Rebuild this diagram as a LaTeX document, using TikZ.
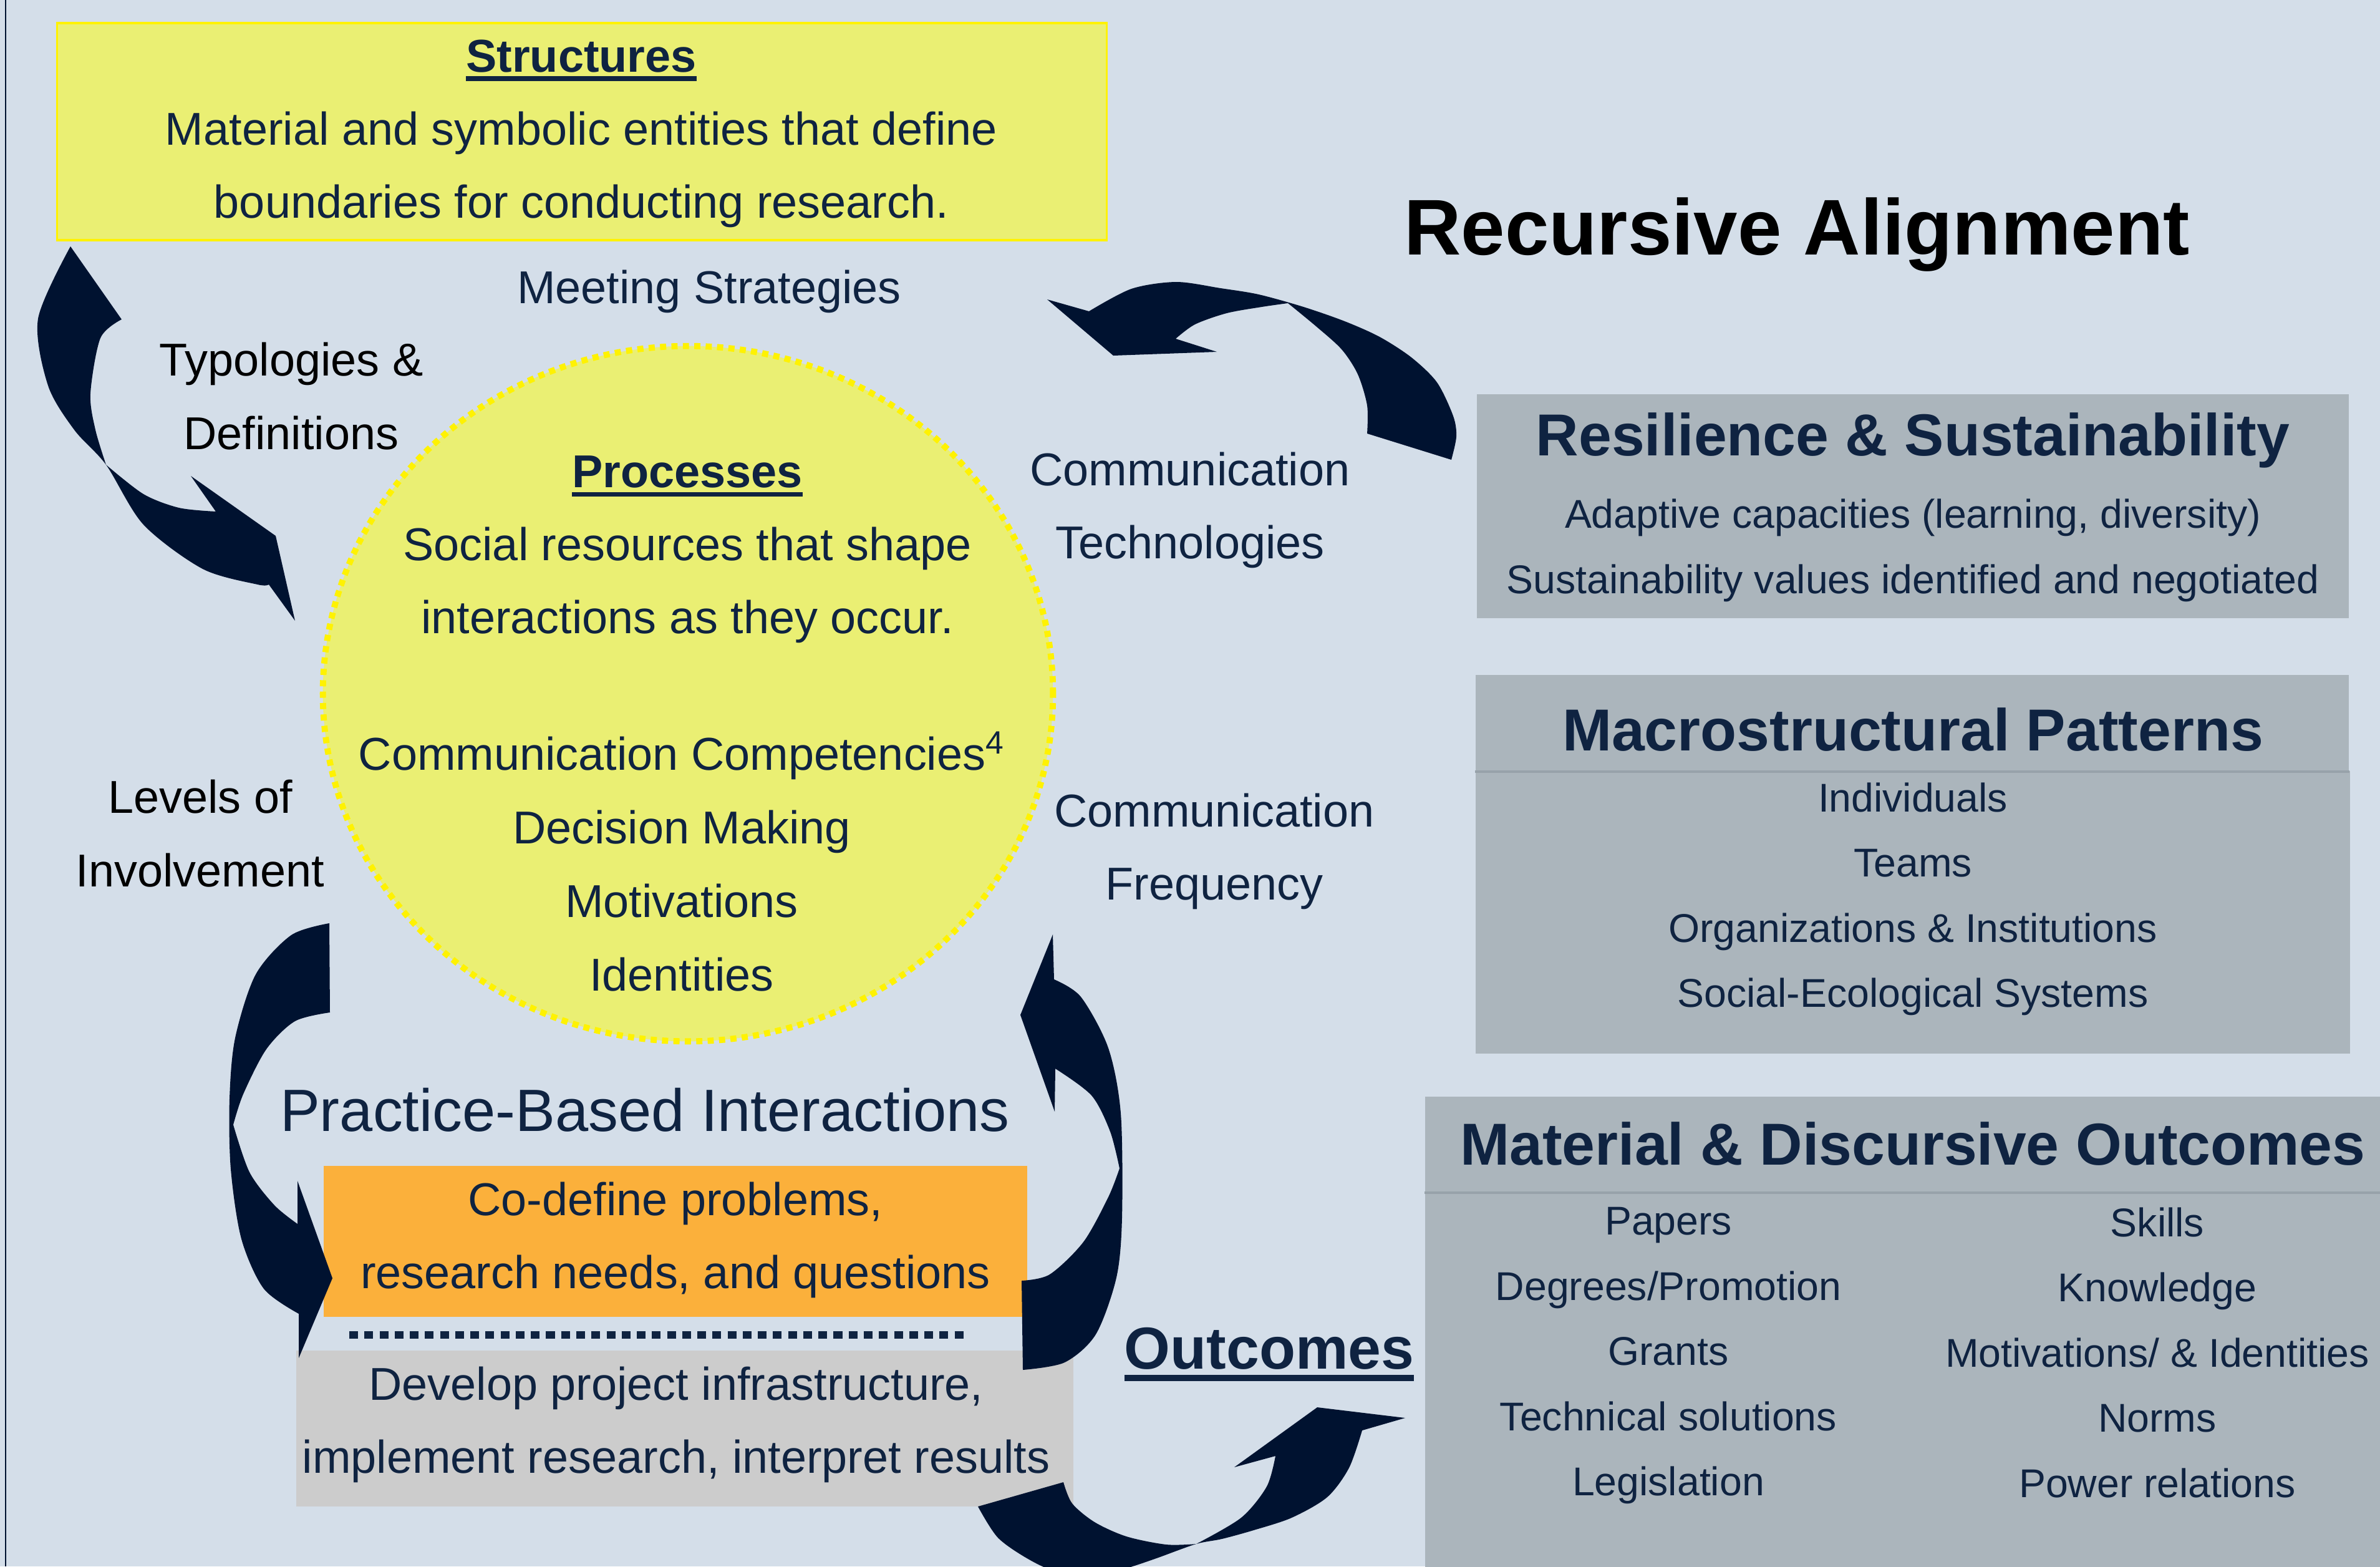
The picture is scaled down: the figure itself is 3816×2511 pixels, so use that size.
\documentclass[tikz,border=0pt]{standalone}
\usepackage{fontspec}
\setmainfont{Liberation Sans}
\usetikzlibrary{shapes.geometric}

\definecolor{bgblue}{HTML}{D4DEE9}
\definecolor{navy}{HTML}{0F2341}
\definecolor{arrownavy}{HTML}{001230}
\definecolor{paleyellow}{HTML}{EAEF73}
\definecolor{orangebox}{HTML}{FBB03B}
\definecolor{greybox}{HTML}{CCCCCC}
\definecolor{slatebox}{HTML}{ABB5BC}
\definecolor{slateline}{HTML}{97A2AA}

% thick underline for the headings
\newsavebox{\ulinebox}
\newcommand{\ulined}[1]{\sbox{\ulinebox}{#1}\rlap{\usebox{\ulinebox}}\rule[-0.2em]{\wd\ulinebox}{0.1em}}

\begin{document}
\begin{tikzpicture}[x=0.01cm, y=-0.01cm,
    swoosh/.style={fill=arrownavy},
    bodytext/.style={font=\fontsize{21}{33.3}\selectfont, text=navy, align=center, inner sep=0pt, yshift=-2pt},
    listtext/.style={font=\fontsize{18.3}{29.7}\selectfont, text=navy, align=center, inner sep=0pt, yshift=-1.5pt},
    boxhead/.style={font=\bfseries\fontsize{27}{32}\selectfont, text=navy, inner sep=0pt, yshift=-1.5pt},
    slate/.style={fill=slatebox, inner sep=0pt}]

    \useasboundingbox (0,0) rectangle (3816,2511);
    \clip (0,0) rectangle (3816,2511);
    \fill[bgblue] (0,0) rectangle (3816,2511);
    \draw[arrownavy, line width=0.6pt] (9,0) -- (9,2511);

    % structures
    \node[fill=paleyellow, draw=yellow, line width=1pt, inner sep=0pt,
          minimum width=16.82cm, minimum height=3.48cm] (structbox) at (933,211) {};
    \node[bodytext] (structtext) at (932,207)
        {\ulined{\textbf{Structures}}\\Material and symbolic entities that define\\boundaries for conducting research.};

    \node[font=\bfseries\fontsize{36}{40}\selectfont, inner sep=0pt] (title) at (2881,376) {Recursive Alignment};

    % processes
    \node[ellipse, fill=paleyellow, draw=yellow, line width=2.8pt, dash pattern=on 2.8pt off 2.4pt,
          inner sep=0pt, minimum width=11.7cm, minimum height=11.14cm] (processes) at (1103,1112) {};
    \node[bodytext] (proctop) at (1102,874)
        {\ulined{\textbf{Processes}}\\Social resources that shape\\interactions as they occur.};
    \node[bodytext, font=\fontsize{21}{33.6}\selectfont] (proclist) at (1093,1374)
        {Communication Competencies\textsuperscript{4}\\Decision Making\\Motivations\\Identities};

    \node[bodytext] (meeting) at (1137,460) {Meeting Strategies};
    \node[bodytext, text=black] (typologies) at (467,628) {Typologies \&\\Definitions};
    \node[bodytext] (commtech) at (1908,811) {Communication\\Technologies};
    \node[bodytext, text=black] (levels) at (321,1329) {Levels of\\Involvement};
    \node[bodytext] (commfreq) at (1947,1358) {Communication\\Frequency};

    % practice-based interactions
    \node[bodytext, font=\fontsize{27.2}{32}\selectfont] (practice) at (1034,1772) {Practice-Based Interactions};
    \node[fill=orangebox, inner sep=0pt, minimum width=11.28cm, minimum height=2.42cm] (codefine) at (1083,1990) {};
    \node[bodytext] (codefinetext) at (1083,1981) {Co-define problems,\\research needs, and questions};
    \draw[navy, line width=3.4pt, dash pattern=on 4pt off 2.9pt] (560,2140) -- (1553,2140);
    \node[fill=greybox, inner sep=0pt, minimum width=12.46cm, minimum height=2.49cm] (develop) at (1098,2290) {};
    \node[bodytext] (developtext) at (1084,2277) {Develop project infrastructure,\\implement research, interpret results};

    \node[boxhead] (outcomes) at (2035,2166) {\ulined{Outcomes}};

    % right column
    \node[slate, minimum width=13.98cm, minimum height=3.59cm] (resilience) at (3067,811.5) {};
    \node[boxhead] (resiltitle) at (3067,701) {Resilience \& Sustainability};
    \node[listtext] (resiltext) at (3067,877)
        {Adaptive capacities (learning, diversity)\\Sustainability values identified and negotiated};

    \node[slate, minimum width=14cm, minimum height=1.54cm] (macrohead) at (3066,1159) {};
    \node[slate, minimum width=14.02cm, minimum height=4.53cm] (macrobody) at (3067,1462.5) {};
    \draw[slateline, line width=1pt] (macrohead.south west) -- (macrohead.south east);
    \node[boxhead] (macrotitle) at (3067,1164) {Macrostructural Patterns};
    \node[listtext] (macrolist) at (3067,1436)
        {Individuals\\Teams\\Organizations \& Institutions\\Social-Ecological Systems};

    \node[slate, minimum width=16.15cm, minimum height=1.53cm] (materialhead) at (3092.5,1834.5) {};
    \node[slate, minimum width=16.15cm, minimum height=6.89cm] (materialbody) at (3092.5,2255.5) {};
    \draw[slateline, line width=1pt] (materialhead.south west) -- (materialhead.south east);
    \node[boxhead] (materialtitle) at (3067,1828) {Material \& Discursive Outcomes};
    \node[listtext] (materialleft) at (2675,2168)
        {Papers\\Degrees/Promotion\\Grants\\Technical solutions\\Legislation};
    \node[listtext] (materialright) at (3459,2163)
        {Skills\\Knowledge\\Motivations/ \& Identities\\Norms\\Power relations};

    % curved arrows
    \fill[swoosh] (113,395) -- (195,512)
        -- plot[smooth] coordinates {(195,512) (161,542) (145,631) (153,689) (170,745)}
        -- plot[smooth] coordinates {(170,745) (230,792) (287,814) (346,820)}
        -- (306,763) -- (442,859) -- (473,995) -- (431,937)
        -- plot[smooth] coordinates {(431,937) (413,937) (325,912) (230,841) (170,745) (119,689) (77,618) (61,511) (113,395)}
        -- cycle;
    \fill[swoosh] (2192,695) -- (2327,737)
        -- plot[smooth] coordinates {(2327,737) (2335,700) (2330,667) (2304,613) (2263,573) (2212,540) (2156,515) (2090,492) (2018,472) (1957,462) (1886,452) (1814,463) (1746,499)}
        -- (1679,480) -- (1785,570) -- (1951,564) -- (1885,543)
        -- plot[smooth] coordinates {(1885,543) (1916,520) (1967,502) (2023,492) (2065,486)}
        -- plot[smooth] coordinates {(2065,486) (2110,523) (2151,560) (2177,600) (2192,650) (2192,695)}
        -- cycle;
    \fill[swoosh] (528,1480) -- (529,1623)
        -- plot[smooth] coordinates {(529,1623) (473,1637) (427,1682) (390,1754) (374,1803)}
        -- plot[smooth] coordinates {(374,1803) (400,1879) (440,1932) (477,1962)}
        -- (477,1893) -- (533,2049) -- (479,2177) -- (479,2106)
        -- plot[smooth] coordinates {(479,2106) (423,2066) (387,1986) (370,1874) (368,1762) (377,1664) (410,1562) (467,1499) (528,1480)}
        -- cycle;
    \fill[swoosh] (1638,2053) -- (1640,2196)
        -- plot[smooth] coordinates {(1640,2196) (1707,2184) (1757,2139) (1790,2048) (1799,1952) (1797,1785) (1777,1680) (1733,1598) (1690,1570)}
        -- (1688,1498) -- (1636,1627) -- (1691,1782) -- (1692,1713)
        -- plot[smooth] coordinates {(1692,1713) (1750,1756) (1780,1814) (1795,1873)}
        -- plot[smooth] coordinates {(1795,1873) (1777,1919) (1737,1991) (1683,2043) (1638,2053)}
        -- cycle;
    \fill[swoosh] (1568,2415) -- (1705,2376)
        -- plot[smooth] coordinates {(1705,2376) (1719,2410) (1755,2440) (1806,2463) (1870,2476) (1918,2475)}
        -- plot[smooth] coordinates {(1918,2475) (1990,2433) (2031,2383) (2045,2334)}
        -- (1979,2352) -- (2112,2256) -- (2253,2273) -- (2184,2293)
        -- plot[smooth] coordinates {(2184,2293) (2163,2353) (2128,2400) (2071,2433) (2010,2453) (1959,2467) (1918,2475) (1857,2497) (1816,2511) (1760,2528) (1700,2522) (1650,2500) (1600,2465) (1568,2415)}
        -- cycle;

\end{tikzpicture}
\end{document}
